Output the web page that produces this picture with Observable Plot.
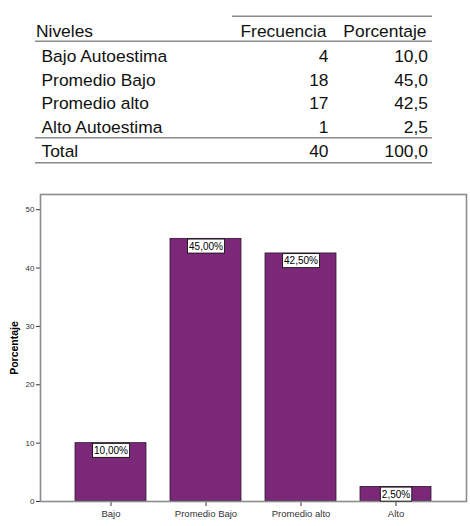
<!DOCTYPE html>
<html>
<head>
<meta charset="utf-8">
<script src="https://cdn.jsdelivr.net/npm/d3@7"></script>
<script src="https://cdn.jsdelivr.net/npm/@observablehq/plot@0.6"></script>
<style>
  html, body { margin: 0; padding: 0; background: #fff; }
  #wrap { width: 470px; height: 526px; position: relative; overflow: hidden; font-family: "Liberation Sans", Arial, sans-serif; }
  #table svg, #chart svg { display: block; }
  #chart g[aria-label="x-axis tick label"] text { font-size: 9.5px; }
</style>
</head>
<body>
<div id="wrap">
  <div id="table"></div>
  <div id="chart"></div>
</div>
<script>
// ---- data ----
const niveles = ["Bajo Autoestima", "Promedio Bajo", "Promedio alto", "Alto Autoestima"];
const frecuencia = [4, 18, 17, 1];
const porcentaje = [10.0, 45.0, 42.5, 2.5];
const categorias = ["Bajo", "Promedio Bajo", "Promedio alto", "Alto"];
const yTicks = [0, 10, 20, 30, 40, 50];
const tablaEncabezados = ["Niveles", "Frecuencia", "Porcentaje"];
const totalEtiqueta = "Total";
const ejeY = "Porcentaje";

const locale = d3.formatLocale({decimal: ",", thousands: ".", grouping: [3], currency: ["", "€"]});
const f1 = locale.format(".1f");
const f2 = locale.format(".2f");

// ---- table ----
(function drawTable() {
  const svg = d3.select("#table").append("svg").attr("width", 470).attr("height", 185)
    .style("font-family", '"Liberation Sans", Arial, sans-serif').style("font-size", "17.4px").style("fill", "#111");
  const line = (x1, x2, y) => svg.append("line").attr("x1", x1).attr("x2", x2).attr("y1", y).attr("y2", y)
    .attr("stroke", "#8a8a8a").attr("stroke-width", 1.4);
  line(232, 432, 16.3);
  line(35, 432, 41.3);
  line(35, 432, 137.7);
  line(35, 432, 162.7);
  const colFreqRight = 328.5, colPctRight = 428;
  svg.append("text").attr("x", 36).attr("y", 36.8).text(tablaEncabezados[0]);
  svg.append("text").attr("x", colFreqRight - 2).attr("y", 36.8).attr("text-anchor", "end").text(tablaEncabezados[1]);
  svg.append("text").attr("x", colPctRight - 1.5).attr("y", 36.8).attr("text-anchor", "end").text(tablaEncabezados[2]);
  const rows = niveles.map((n, i) => [n, String(frecuencia[i]), f1(porcentaje[i])]);
  rows.push([totalEtiqueta, String(d3.sum(frecuencia)), f1(d3.sum(porcentaje))]);
  const ys = [62.3, 85.9, 109.4, 133, 156.7];
  rows.forEach((r, i) => {
    svg.append("text").attr("x", 41.5).attr("y", ys[i]).text(r[0]);
    svg.append("text").attr("x", colFreqRight).attr("y", ys[i]).attr("text-anchor", "end").text(r[1]);
    svg.append("text").attr("x", colPctRight).attr("y", ys[i]).attr("text-anchor", "end").text(r[2]);
  });
})();

// ---- chart ----
const data = categorias.map((c, i) => ({cat: c, pct: porcentaje[i]}));

const plot = Plot.plot({
  width: 470,
  height: 341,
  marginTop: 9,
  marginBottom: 25,
  marginLeft: 40,
  marginRight: 4,
  style: {fontFamily: '"Liberation Sans", Arial, sans-serif', fontSize: "8px", color: "#333", background: "#fff"},
  x: {domain: categorias, paddingInner: 0.25, paddingOuter: 0.35, tickSize: 5, label: null},
  y: {domain: [0, 52.6], ticks: yTicks, tickSize: 4, tickPadding: 2, label: ejeY, labelArrow: "none", labelAnchor: "center", labelOffset: 30},
  marks: [
    Plot.barY(data, {x: "cat", y: "pct", fill: "#7b2879", stroke: "#2b1a2b", strokeWidth: 0.8}),
    Plot.frame({stroke: "#8c8c8c", strokeWidth: 1.6}),
    Plot.text(data, {x: "cat", y: "pct", text: d => f2(d.pct) + "%", dy: 7.5, fontSize: 10, fill: "#000", lineAnchor: "middle"})
  ]
});
document.getElementById("chart").appendChild(plot);

// y-axis title styling (bold, no arrow)
d3.select(plot).selectAll("text").filter(function() { return this.textContent.indexOf(ejeY) >= 0; })
  .text(ejeY).attr("font-weight", "bold").attr("font-size", "10.5px").attr("fill", "#000");

// white boxes behind value labels
d3.select(plot).selectAll('g[aria-label="text"] text').each(function() {
  const bb = this.getBBox();
  const r = document.createElementNS("http://www.w3.org/2000/svg", "rect");
  r.setAttribute("x", bb.x - 1.5);
  r.setAttribute("y", bb.y + bb.height / 2 - 7);
  r.setAttribute("width", bb.width + 3);
  r.setAttribute("height", 14);
  r.setAttribute("fill", "#fff");
  r.setAttribute("stroke", "#000");
  r.setAttribute("stroke-width", 0.8);
  const t = this.getAttribute("transform");
  if (t) r.setAttribute("transform", t);
  this.parentNode.insertBefore(r, this);
});
</script>
</body>
</html>
